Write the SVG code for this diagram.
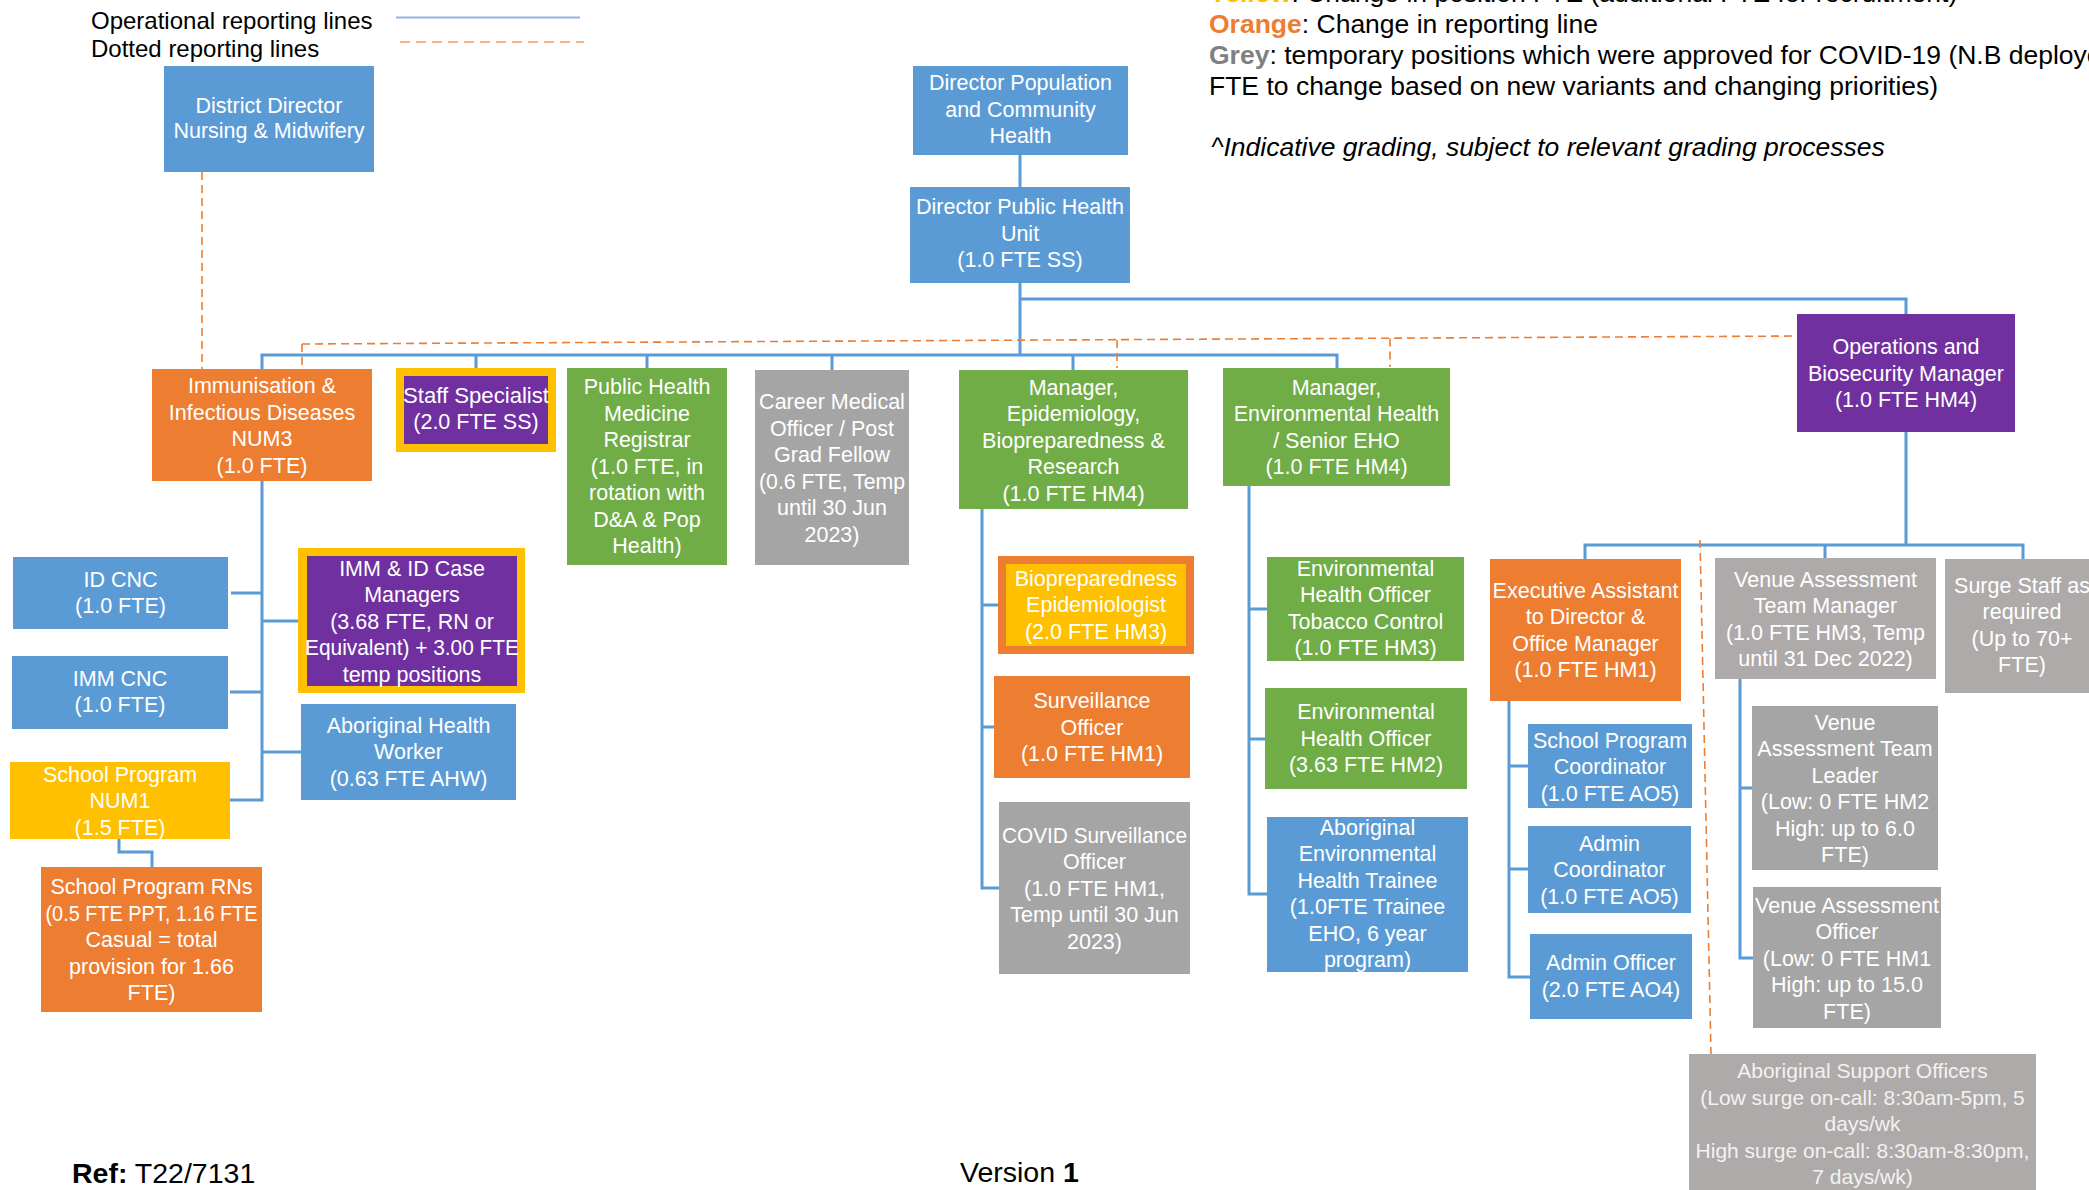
<svg xmlns="http://www.w3.org/2000/svg" width="2089" height="1190" viewBox="0 0 2089 1190">
<style>
text{font-family:"Liberation Sans",Arial,sans-serif}
.n text{font-size:21.5px;fill:#fff;text-anchor:middle}
.aso text{font-size:21px;fill:#F2F2F2}
.blue{fill:#5B9BD5}.orange{fill:#ED7D31}.green{fill:#70AD47}.yellow{fill:#FFC000}.purple{fill:#7030A0}.grey{fill:#A5A5A5}.grey2{fill:#AEAAAA}
.c path{fill:none;stroke:#5B9BD5;stroke-width:3}
.d path{fill:none;stroke:#ED7D31;stroke-width:1.6;stroke-dasharray:8 5}
.note{font-size:26.5px;fill:#000}
</style>
<rect width="2089" height="1190" fill="#fff"/>
<g id="legend">
<text x="91" y="29" font-size="24" fill="#000">Operational reporting lines</text>
<text x="91" y="57" font-size="24" fill="#000">Dotted reporting lines</text>
<path d="M396,17.5H580" stroke="#8EB4E3" stroke-width="2" fill="none"/>
<path d="M400,42H584" stroke="#F4B183" stroke-width="2" stroke-dasharray="10 6" fill="none"/>
</g>
<g id="notes">
<text class="note" x="1209" y="2"><tspan fill="#FFC000" font-weight="bold">Yellow</tspan>: Change in position FTE (additional FTE for recruitment)</text>
<text class="note" x="1209" y="33"><tspan fill="#ED7D31" font-weight="bold">Orange</tspan>: Change in reporting line</text>
<text class="note" x="1209" y="64"><tspan fill="#808080" font-weight="bold">Grey</tspan>: temporary positions which were approved for COVID-19 (N.B deployed</text>
<text class="note" x="1209" y="95">FTE to change based on new variants and changing priorities)</text>
<text class="note" x="1211" y="156" font-style="italic">^Indicative grading, subject to relevant grading processes</text>
</g>
<g id="connectors">
<g class="c">
<path d="M1020,155V187"/>
<path d="M1020,283V356"/>
<path d="M262,369V355H1337V368"/>
<path d="M476,355V368M647,355V368M832,355V370M1073,355V370"/>
<path d="M1020,299H1906V314"/>
<path d="M262,481V800H230M231,593H262M262,621H298M230,692H262M262,752H301"/>
<path d="M119,839V852H152V867"/>
<path d="M982,509V888H999M982,605H998M982,727H994"/>
<path d="M1249,486V894H1267M1249,609H1267M1249,739H1265"/>
<path d="M1906,432V545M1585,559V545H2023V559M1825,545V558"/>
<path d="M1509,701V977H1530M1509,766H1528M1509,869H1528"/>
<path d="M1740,679V958H1753M1740,788H1752"/>
</g>
<g class="d">
<path d="M202,172V369"/>
<path d="M302,344L1800,336"/>
<path d="M302,344V369M1117,340V368M1390,338.5V367"/>
<path d="M1700,540L1711,1054"/>
</g>
</g>
<g id="ddnm" class="n"><rect class="blue" x="164" y="66" width="210" height="106"/><text><tspan x="269" y="112.5">District Director</tspan><tspan x="269" y="138">Nursing &amp; Midwifery</tspan></text></g>
<g id="dpch" class="n"><rect class="blue" x="913" y="66" width="215" height="89"/><text><tspan x="1020.5" y="90">Director Population</tspan><tspan x="1020.5" y="116.5">and Community</tspan><tspan x="1020.5" y="143">Health</tspan></text></g>
<g id="dphu" class="n"><rect class="blue" x="910" y="187" width="220" height="96"/><text><tspan x="1020" y="214">Director Public Health</tspan><tspan x="1020" y="240.5">Unit</tspan><tspan x="1020" y="267">(1.0 FTE SS)</tspan></text></g>
<g id="imm" class="n"><rect class="orange" x="152" y="369" width="220" height="112"/><text><tspan x="262" y="393">Immunisation &amp;</tspan><tspan x="262" y="419.5">Infectious Diseases</tspan><tspan x="262" y="446">NUM3</tspan><tspan x="262" y="472.5">(1.0 FTE)</tspan></text></g>
<g id="staffspec" class="n"><rect class="yellow" x="396" y="368" width="160" height="84"/><rect class="purple" x="404" y="376" width="144" height="68"/><text><tspan x="476" y="402.5" textLength="146" lengthAdjust="spacingAndGlyphs">Staff Specialist</tspan><tspan x="476" y="429">(2.0 FTE SS)</tspan></text></g>
<g id="phmr" class="n"><rect class="green" x="567" y="368" width="160" height="197"/><text><tspan x="647" y="394">Public Health</tspan><tspan x="647" y="420.5">Medicine</tspan><tspan x="647" y="447">Registrar</tspan><tspan x="647" y="473.5">(1.0 FTE, in</tspan><tspan x="647" y="500">rotation with</tspan><tspan x="647" y="526.5">D&amp;A &amp; Pop</tspan><tspan x="647" y="553">Health)</tspan></text></g>
<g id="cmo" class="n"><rect class="grey" x="755" y="370" width="154" height="195"/><text><tspan x="832" y="409">Career Medical</tspan><tspan x="832" y="435.5">Officer / Post</tspan><tspan x="832" y="462">Grad Fellow</tspan><tspan x="832" y="488.5" textLength="146" lengthAdjust="spacingAndGlyphs">(0.6 FTE, Temp</tspan><tspan x="832" y="515">until 30 Jun</tspan><tspan x="832" y="541.5">2023)</tspan></text></g>
<g id="mepi" class="n"><rect class="green" x="959" y="370" width="229" height="139"/><text><tspan x="1073.5" y="394.5">Manager,</tspan><tspan x="1073.5" y="421">Epidemiology,</tspan><tspan x="1073.5" y="447.5">Biopreparedness &amp;</tspan><tspan x="1073.5" y="474">Research</tspan><tspan x="1073.5" y="500.5">(1.0 FTE HM4)</tspan></text></g>
<g id="meh" class="n"><rect class="green" x="1223" y="368" width="227" height="118"/><text><tspan x="1336.5" y="394.5">Manager,</tspan><tspan x="1336.5" y="421">Environmental Health</tspan><tspan x="1336.5" y="447.5">/ Senior EHO</tspan><tspan x="1336.5" y="474">(1.0 FTE HM4)</tspan></text></g>
<g id="ops" class="n"><rect class="purple" x="1797" y="314" width="218" height="118"/><text><tspan x="1906" y="354">Operations and</tspan><tspan x="1906" y="380.5">Biosecurity Manager</tspan><tspan x="1906" y="407">(1.0 FTE HM4)</tspan></text></g>
<g id="idcnc" class="n"><rect class="blue" x="13" y="557" width="215" height="72"/><text><tspan x="120.5" y="586.5">ID CNC</tspan><tspan x="120.5" y="613">(1.0 FTE)</tspan></text></g>
<g id="immcnc" class="n"><rect class="blue" x="12" y="656" width="216" height="73"/><text><tspan x="120" y="685.5">IMM CNC</tspan><tspan x="120" y="712">(1.0 FTE)</tspan></text></g>
<g id="casemgr" class="n"><rect class="yellow" x="298" y="548" width="227" height="145"/><rect class="purple" x="307" y="556" width="210" height="130"/><text><tspan x="412" y="575.5">IMM &amp; ID Case</tspan><tspan x="412" y="602">Managers</tspan><tspan x="412" y="628.5">(3.68 FTE, RN or</tspan><tspan x="412" y="655" textLength="214" lengthAdjust="spacingAndGlyphs">Equivalent) + 3.00 FTE</tspan><tspan x="412" y="681.5">temp positions</tspan></text></g>
<g id="ahw" class="n"><rect class="blue" x="301" y="704" width="215" height="96"/><text><tspan x="408.5" y="732.5">Aboriginal Health</tspan><tspan x="408.5" y="759">Worker</tspan><tspan x="408.5" y="785.5">(0.63 FTE AHW)</tspan></text></g>
<g id="num1" class="n"><rect class="yellow" x="10" y="762" width="220" height="77"/><text><tspan x="120" y="781.5">School Program</tspan><tspan x="120" y="808">NUM1</tspan><tspan x="120" y="834.5">(1.5 FTE)</tspan></text></g>
<g id="rns" class="n"><rect class="orange" x="41" y="867" width="221" height="145"/><text><tspan x="151.5" y="894">School Program RNs</tspan><tspan x="151.5" y="920.5" textLength="212" lengthAdjust="spacingAndGlyphs">(0.5 FTE PPT, 1.16 FTE</tspan><tspan x="151.5" y="947">Casual = total</tspan><tspan x="151.5" y="973.5">provision for 1.66</tspan><tspan x="151.5" y="1000">FTE)</tspan></text></g>
<g id="bioprep" class="n"><rect class="orange" x="998" y="556" width="196" height="98"/><rect class="yellow" x="1006" y="564" width="180" height="82"/><text><tspan x="1096" y="585.5">Biopreparedness</tspan><tspan x="1096" y="612">Epidemiologist</tspan><tspan x="1096" y="638.5">(2.0 FTE HM3)</tspan></text></g>
<g id="surv" class="n"><rect class="orange" x="994" y="676" width="196" height="102"/><text><tspan x="1092" y="708">Surveillance</tspan><tspan x="1092" y="734.5">Officer</tspan><tspan x="1092" y="761">(1.0 FTE HM1)</tspan></text></g>
<g id="covid" class="n"><rect class="grey" x="999" y="802" width="191" height="172"/><text><tspan x="1094.5" y="842.5" textLength="185" lengthAdjust="spacingAndGlyphs">COVID Surveillance</tspan><tspan x="1094.5" y="869">Officer</tspan><tspan x="1094.5" y="895.5">(1.0 FTE HM1,</tspan><tspan x="1094.5" y="922">Temp until 30 Jun</tspan><tspan x="1094.5" y="948.5">2023)</tspan></text></g>
<g id="ehotob" class="n"><rect class="green" x="1267" y="557" width="197" height="104"/><text><tspan x="1365.5" y="575.5">Environmental</tspan><tspan x="1365.5" y="602">Health Officer</tspan><tspan x="1365.5" y="628.5">Tobacco Control</tspan><tspan x="1365.5" y="655">(1.0 FTE HM3)</tspan></text></g>
<g id="eho" class="n"><rect class="green" x="1265" y="688" width="202" height="101"/><text><tspan x="1366" y="719">Environmental</tspan><tspan x="1366" y="745.5">Health Officer</tspan><tspan x="1366" y="772">(3.63 FTE HM2)</tspan></text></g>
<g id="aeht" class="n"><rect class="blue" x="1267" y="817" width="201" height="155"/><text><tspan x="1367.5" y="834.5">Aboriginal</tspan><tspan x="1367.5" y="861">Environmental</tspan><tspan x="1367.5" y="887.5">Health Trainee</tspan><tspan x="1367.5" y="914">(1.0FTE Trainee</tspan><tspan x="1367.5" y="940.5">EHO, 6 year</tspan><tspan x="1367.5" y="967">program)</tspan></text></g>
<g id="exec" class="n"><rect class="orange" x="1490" y="559" width="191" height="142"/><text><tspan x="1585.5" y="597.5" textLength="186" lengthAdjust="spacingAndGlyphs">Executive Assistant</tspan><tspan x="1585.5" y="624">to Director &amp;</tspan><tspan x="1585.5" y="650.5">Office Manager</tspan><tspan x="1585.5" y="677">(1.0 FTE HM1)</tspan></text></g>
<g id="vatm" class="n"><rect class="grey2" x="1715" y="558" width="221" height="121"/><text><tspan x="1825.5" y="586.5">Venue Assessment</tspan><tspan x="1825.5" y="613">Team Manager</tspan><tspan x="1825.5" y="639.5">(1.0 FTE HM3, Temp</tspan><tspan x="1825.5" y="666">until 31 Dec 2022)</tspan></text></g>
<g id="surge" class="n"><rect class="grey2" x="1945" y="559" width="160" height="134"/><text><tspan x="2022" y="592.5">Surge Staff as</tspan><tspan x="2022" y="619">required</tspan><tspan x="2022" y="645.5">(Up to 70+</tspan><tspan x="2022" y="672">FTE)</tspan></text></g>
<g id="spc" class="n"><rect class="blue" x="1528" y="724" width="164" height="84"/><text><tspan x="1610" y="747.5">School Program</tspan><tspan x="1610" y="774">Coordinator</tspan><tspan x="1610" y="800.5">(1.0 FTE AO5)</tspan></text></g>
<g id="admcoord" class="n"><rect class="blue" x="1528" y="826" width="163" height="87"/><text><tspan x="1609.5" y="850.5">Admin</tspan><tspan x="1609.5" y="877">Coordinator</tspan><tspan x="1609.5" y="903.5">(1.0 FTE AO5)</tspan></text></g>
<g id="admoff" class="n"><rect class="blue" x="1530" y="934" width="162" height="85"/><text><tspan x="1611" y="970">Admin Officer</tspan><tspan x="1611" y="996.5">(2.0 FTE AO4)</tspan></text></g>
<g id="vatl" class="n"><rect class="grey" x="1752" y="706" width="186" height="164"/><text><tspan x="1845" y="729.5">Venue</tspan><tspan x="1845" y="756">Assessment Team</tspan><tspan x="1845" y="782.5">Leader</tspan><tspan x="1845" y="809">(Low: 0 FTE HM2</tspan><tspan x="1845" y="835.5">High: up to 6.0</tspan><tspan x="1845" y="862">FTE)</tspan></text></g>
<g id="vao" class="n"><rect class="grey" x="1753" y="887" width="188" height="141"/><text><tspan x="1847" y="912.5" textLength="184" lengthAdjust="spacingAndGlyphs">Venue Assessment</tspan><tspan x="1847" y="939">Officer</tspan><tspan x="1847" y="965.5">(Low: 0 FTE HM1</tspan><tspan x="1847" y="992">High: up to 15.0</tspan><tspan x="1847" y="1018.5">FTE)</tspan></text></g>
<g id="aso" class="n aso"><rect class="grey2" x="1689" y="1054" width="347" height="150"/><text><tspan x="1862.5" y="1078">Aboriginal Support Officers</tspan><tspan x="1862.5" y="1104.5">(Low surge on-call: 8:30am-5pm, 5</tspan><tspan x="1862.5" y="1131">days/wk</tspan><tspan x="1862.5" y="1157.5">High surge on-call: 8:30am-8:30pm,</tspan><tspan x="1862.5" y="1184">7 days/wk)</tspan></text></g>
<g id="footer">
<text x="72" y="1183" font-size="28.5" fill="#000"><tspan font-weight="bold">Ref:</tspan> T22/7131</text>
<text x="960" y="1182" font-size="28.5" fill="#000">Version <tspan font-weight="bold">1</tspan></text>
</g>
</svg>
